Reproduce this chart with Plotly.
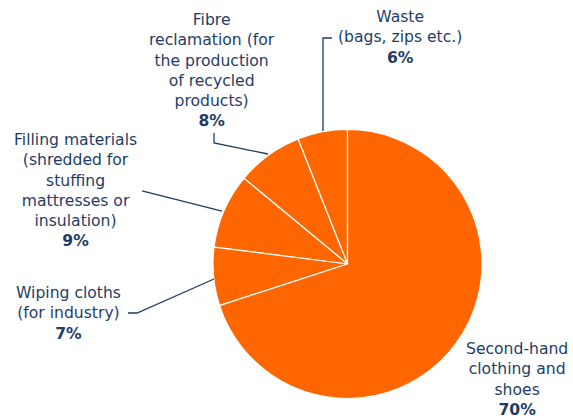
import plotly.graph_objects as go

labels = ["Waste<br>(bags, zips etc.)",
          "Fibre<br>reclamation (for<br>the production<br>of recycled<br>products)",
          "Filling materials<br>(shredded for<br>stuffing<br>mattresses or<br>insulation)",
          "Wiping cloths<br>(for industry)",
          "Second-hand<br>clothing and<br>shoes"]
values = [6, 8, 9, 7, 70]

W, H = 573, 418
NAVY = "#1E3D66"

fig = go.Figure(go.Pie(
    labels=labels, values=values, sort=False, direction="counterclockwise",
    rotation=-21.6, textinfo="none", hoverinfo="label+percent",
    marker=dict(colors=["#FF6600"] * len(values), line=dict(color="white", width=1.2)),
    domain=dict(x=[213 / W, 482 / W], y=[1 - 399 / H, 1 - 129 / H]),
    showlegend=False,
))

def px(x, y):
    return x / W, 1 - y / H

# label positions (pixel centres of text block, top y)
label_pos = [(400, 6), (212, 9), (75, 129), (68, 282), (517, 338)]
for lab, v, (x, y) in zip(labels, values, label_pos):
    xx, yy = px(x, y)
    fig.add_annotation(text=f"{lab}<br><b>{v}%</b>", x=xx, y=yy, xref="paper", yref="paper",
                       xanchor="center", yanchor="top", showarrow=False, align="center",
                       font=dict(family="DejaVu Sans", size=15.6, color=NAVY))

# leader lines (pixel paths)
paths = [
    [(332, 38), (323, 38), (323, 131)],
    [(214, 133), (214, 143), (268, 154)],
    [(142, 191), (222, 211)],
    [(128, 313), (137, 313), (214, 279)],
]
for p in paths:
    d = "M " + " L ".join(f"{px(x, y)[0]:.4f},{px(x, y)[1]:.4f}" for x, y in p)
    fig.add_shape(type="path", path=d, xref="paper", yref="paper",
                  line=dict(color=NAVY, width=1.3))

fig.update_layout(width=W, height=H, margin=dict(l=0, r=0, t=0, b=0),
                  paper_bgcolor="white", plot_bgcolor="white")
fig.write_html("out.html", config={"displayModeBar": False},
               post_script="document.body.style.margin='0';")
